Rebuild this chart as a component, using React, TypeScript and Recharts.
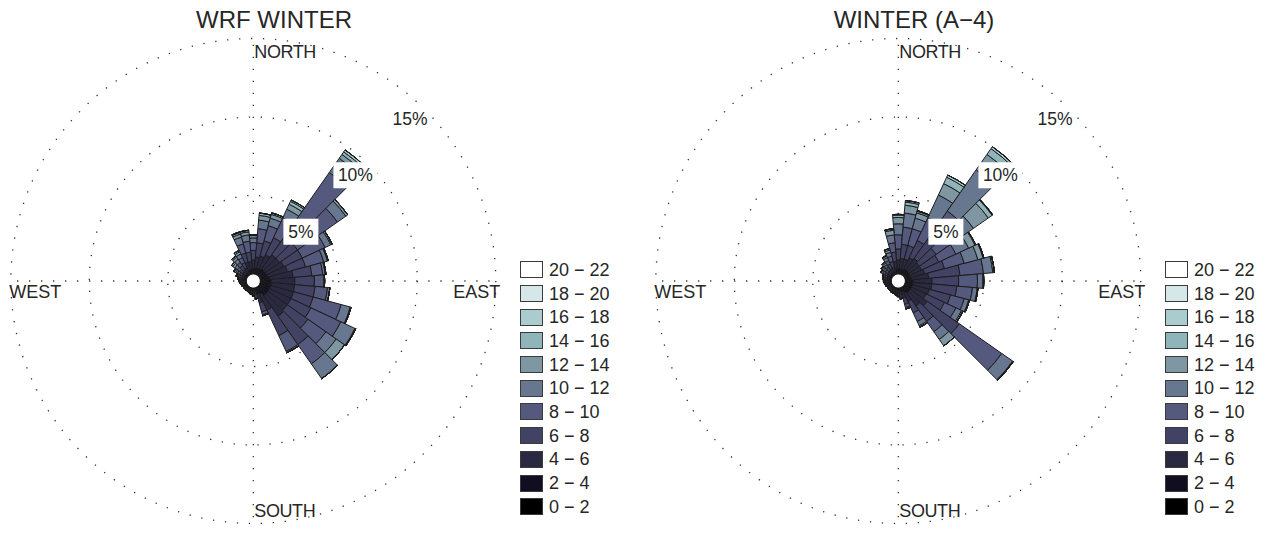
import React from 'react';
import {
  RadialBarChart,
  RadialBar,
  PolarGrid,
  PolarAngleAxis,
  PolarRadiusAxis,
  Legend,
} from 'recharts';

// ---- categories ----
const directions = [
  '0', '10', '20', '30', '40', '50', '60', '70', '80', '90', '100', '110',
  '120', '130', '140', '150', '160', '170', '180', '190', '200', '210', '220', '230',
  '240', '250', '260', '270', '280', '290', '300', '310', '320', '330', '340', '350',
];
const speedBins = ['0 − 2', '2 − 4', '4 − 6', '6 − 8', '8 − 10', '10 − 12', '12 − 14', '14 − 16', '16 − 18', '18 − 20', '20 − 22'];
const binColors = ['#000000', '#120e22', '#2a2942', '#424264', '#55597e', '#687790', '#7e97a3', '#8fb4b9', '#aaccce', '#d5e7e9', '#ffffff'];
const ringTicks = [5, 10, 15];

// ---- WRF WINTER: frequency (%) per direction, one array per speed bin ----
const wrf00_02 = [0.1, 0.1, 0.1, 0.1, 0.1, 0.1, 0.1, 0.1, 0.15, 0.15, 0.15, 0.15, 0.15, 0.15, 0.15, 0.1, 0.1, 0.05, 0.05, 0.05, 0.05, 0.05, 0.05, 0.05, 0.05, 0.05, 0.05, 0.05, 0.05, 0.05, 0.05, 0.05, 0.05, 0.05, 0.1, 0.1];
const wrf02_04 = [0.25, 0.3, 0.3, 0.35, 0.4, 0.4, 0.4, 0.4, 0.45, 0.55, 0.55, 0.55, 0.55, 0.55, 0.55, 0.4, 0.3, 0.15, 0.15, 0.1, 0.1, 0.1, 0.1, 0.1, 0.1, 0.1, 0.1, 0.1, 0.12, 0.12, 0.12, 0.15, 0.15, 0.15, 0.2, 0.2];
const wrf04_06 = [0.55, 0.7, 0.8, 0.95, 1.1, 1.1, 1.2, 1.3, 1.5, 1.5, 1.5, 1.5, 1.5, 1.5, 1.6, 1.1, 0.6, 0.25, 0.2, 0.15, 0.12, 0.1, 0.1, 0.1, 0.1, 0.1, 0.12, 0.12, 0.13, 0.15, 0.18, 0.2, 0.25, 0.3, 0.5, 0.5];
const wrf06_08 = [0.6, 0.9, 1.0, 1.2, 1.6, 1.4, 1.3, 1.2, 1.2, 1.25, 1.3, 1.3, 1.4, 1.6, 2.2, 1.8, 0.6, 0.2, 0.1, 0.1, 0.08, 0.05, 0.05, 0.05, 0.05, 0.07, 0.08, 0.1, 0.1, 0.13, 0.18, 0.2, 0.3, 0.35, 0.6, 0.6];
const wrf08_10 = [0.5, 0.9, 1.0, 1.4, 4.8, 3.1, 1.6, 1.2, 0.7, 0.6, 0.8, 1.85, 2.1, 1.4, 1.5, 1.1, 0.2, 0.05, 0, 0, 0, 0, 0, 0, 0, 0.03, 0.05, 0.05, 0.08, 0.1, 0.15, 0.2, 0.25, 0.35, 0.6, 0.7];
const wrf10_12 = [0.3, 0.55, 0.5, 0.6, 1.1, 0.65, 0.4, 0.25, 0.15, 0.05, 0.15, 0.6, 1.0, 0.8, 1.15, 0.1, 0.05, 0, 0, 0, 0, 0, 0, 0, 0, 0, 0, 0.03, 0.05, 0.08, 0.12, 0.2, 0.25, 0.25, 0.45, 0.4];
const wrf12_14 = [0.15, 0.3, 0.25, 0.35, 0.3, 0.15, 0.1, 0.05, 0.05, 0, 0, 0.05, 0.05, 0.65, 0, 0, 0, 0, 0, 0, 0, 0, 0, 0, 0, 0, 0, 0, 0.02, 0.05, 0.1, 0.15, 0.15, 0.15, 0.2, 0.2];
const wrf14_16 = [0.05, 0.15, 0.1, 0.2, 0.2, 0, 0, 0, 0, 0, 0, 0, 0, 0, 0, 0, 0, 0, 0, 0, 0, 0, 0, 0, 0, 0, 0, 0, 0, 0.02, 0.05, 0.1, 0.1, 0.1, 0.1, 0.1];
const wrf16_18 = [0, 0, 0, 0.1, 0.15, 0, 0, 0, 0, 0, 0, 0, 0, 0, 0, 0, 0, 0, 0, 0, 0, 0, 0, 0, 0, 0, 0, 0, 0, 0, 0, 0, 0, 0, 0.05, 0];
const wrf18_20 = [0, 0, 0, 0, 0, 0, 0, 0, 0, 0, 0, 0, 0, 0, 0, 0, 0, 0, 0, 0, 0, 0, 0, 0, 0, 0, 0, 0, 0, 0, 0, 0, 0, 0, 0, 0];
const wrf20_22 = [0, 0, 0, 0, 0, 0, 0, 0, 0, 0, 0, 0, 0, 0, 0, 0, 0, 0, 0, 0, 0, 0, 0, 0, 0, 0, 0, 0, 0, 0, 0, 0, 0, 0, 0, 0];

// ---- WINTER (A−4) ----
const a4_00_02 = [0.1, 0.1, 0.1, 0.1, 0.1, 0.1, 0.1, 0.1, 0.1, 0.15, 0.15, 0.15, 0.15, 0.15, 0.15, 0.1, 0.1, 0.05, 0.05, 0.05, 0.05, 0.05, 0.05, 0.05, 0.05, 0.05, 0.05, 0.05, 0.05, 0.05, 0.05, 0.05, 0.05, 0.05, 0.05, 0.1];
const a4_02_04 = [0.25, 0.25, 0.25, 0.3, 0.3, 0.3, 0.3, 0.3, 0.3, 0.35, 0.35, 0.35, 0.35, 0.35, 0.35, 0.3, 0.2, 0.15, 0.12, 0.1, 0.1, 0.1, 0.1, 0.1, 0.1, 0.1, 0.1, 0.1, 0.1, 0.1, 0.12, 0.12, 0.15, 0.15, 0.15, 0.2];
const a4_04_06 = [0.55, 0.65, 0.65, 0.8, 0.9, 0.8, 0.8, 0.9, 1.1, 1.2, 1.2, 1.1, 1.0, 1.3, 1.0, 0.6, 0.4, 0.25, 0.18, 0.15, 0.12, 0.12, 0.1, 0.1, 0.1, 0.12, 0.13, 0.15, 0.15, 0.15, 0.18, 0.2, 0.22, 0.25, 0.3, 0.5];
const a4_06_08 = [0.7, 0.9, 0.9, 1.2, 1.5, 1.3, 1.2, 1.3, 2.0, 1.7, 1.6, 1.4, 1.3, 2.5, 1.2, 0.8, 0.4, 0.15, 0.12, 0.1, 0.08, 0.08, 0.06, 0.06, 0.06, 0.08, 0.1, 0.1, 0.12, 0.13, 0.17, 0.2, 0.23, 0.3, 0.35, 0.6];
const a4_08_10 = [0.9, 1.1, 1.1, 1.6, 2.2, 1.5, 1.2, 1.3, 1.5, 1.2, 1.0, 0.9, 0.8, 3.3, 0.8, 0.6, 0.2, 0.07, 0.05, 0.05, 0.05, 0.05, 0.04, 0.04, 0.04, 0.05, 0.05, 0.06, 0.08, 0.1, 0.13, 0.15, 0.18, 0.25, 0.35, 0.6];
const a4_10_12 = [0.7, 0.9, 0.7, 1.6, 3.2, 1.4, 0.9, 0.9, 0.6, 0.35, 0.3, 0.3, 0.4, 0.85, 0.6, 0.3, 0.1, 0.03, 0.03, 0, 0, 0, 0, 0, 0, 0, 0.02, 0.04, 0.05, 0.07, 0.1, 0.1, 0.12, 0.2, 0.25, 0.5];
const a4_12_14 = [0.4, 0.5, 0.35, 0.8, 1.2, 1.15, 0.45, 0.35, 0.1, 0.05, 0.05, 0.05, 0.1, 0.05, 0.5, 0.1, 0, 0, 0, 0, 0, 0, 0, 0, 0, 0, 0, 0, 0, 0, 0.05, 0.08, 0.1, 0.1, 0.15, 0.3];
const a4_14_16 = [0.15, 0.2, 0.1, 0.45, 0.45, 0.3, 0.05, 0.05, 0, 0, 0, 0, 0, 0, 0, 0, 0, 0, 0, 0, 0, 0, 0, 0, 0, 0, 0, 0, 0, 0, 0, 0, 0, 0.05, 0.1, 0.1];
const a4_16_18 = [0.05, 0.1, 0.05, 0.15, 0.15, 0.05, 0, 0, 0, 0, 0, 0, 0, 0, 0, 0, 0, 0, 0, 0, 0, 0, 0, 0, 0, 0, 0, 0, 0, 0, 0, 0, 0, 0, 0, 0];
const a4_18_20 = [0, 0, 0, 0, 0, 0, 0, 0, 0, 0, 0, 0, 0, 0, 0, 0, 0, 0, 0, 0, 0, 0, 0, 0, 0, 0, 0, 0, 0, 0, 0, 0, 0, 0, 0, 0];
const a4_20_22 = [0, 0, 0, 0, 0, 0, 0, 0, 0, 0, 0, 0, 0, 0, 0, 0, 0, 0, 0, 0, 0, 0, 0, 0, 0, 0, 0, 0, 0, 0, 0, 0, 0, 0, 0, 0];

const wrfSeries = [wrf00_02, wrf02_04, wrf04_06, wrf06_08, wrf08_10, wrf10_12, wrf12_14, wrf14_16, wrf16_18, wrf18_20, wrf20_22];
const a4Series = [a4_00_02, a4_02_04, a4_04_06, a4_06_08, a4_08_10, a4_10_12, a4_12_14, a4_14_16, a4_16_18, a4_18_20, a4_20_22];

const buildData = (series: number[][]) =>
  directions.map((dir, i) => {
    const row: Record<string, any> = { dir };
    series.forEach((s, k) => {
      row[`b${k}`] = s[i];
    });
    return row;
  });

const wrfData = buildData(wrfSeries);
const a4Data = buildData(a4Series);

// ---- geometry ----
const FONT = "'Liberation Sans', Arial, Helvetica, sans-serif";
const TEXT = '#262626';
const CX = 253.3;
const CY = 281;
const R_IN = 7;
const R_MAX = 242.5;
const PCT_MAX = 15;
const AXIS_ANGLE = 46;
const ringRadii = ringTicks.map((t) => R_IN + ((R_MAX - R_IN) * t) / PCT_MAX);

const PctTick = (props: any) => {
  const { x, y, payload } = props;
  if (!payload || !payload.value) return null;
  const label = `${payload.value}%`;
  const a = (AXIS_ANGLE * Math.PI) / 180;
  const inward = 17;
  const tx = x - inward * Math.cos(a);
  const ty = y + inward * Math.sin(a);
  const w = label.length === 2 ? 35 : 44;
  return (
    <g>
      <rect x={tx - w / 2} y={ty - 13} width={w} height={26} fill="#ffffff" />
      <text x={tx} y={ty + 6} textAnchor="middle" fontSize={17.5} fill={TEXT} fontFamily={FONT}>
        {label}
      </text>
    </g>
  );
};

const SpeedLegend = () => {
  const items = speedBins.map((label, i) => ({ label, color: binColors[i] })).reverse();
  return (
    <div style={{ fontFamily: FONT, fontSize: 18, color: TEXT }}>
      {items.map((it) => (
        <div key={it.label} style={{ display: 'flex', alignItems: 'center', height: 23.7 }}>
          <span
            style={{
              display: 'inline-block',
              width: 21,
              height: 15,
              background: it.color,
              border: '1px solid #3a3a3a',
              marginRight: 6,
            }}
          />
          <span style={{ lineHeight: '18px', whiteSpace: 'nowrap' }}>{it.label}</span>
        </div>
      ))}
    </div>
  );
};

type RoseProps = { data: any[]; title: string; titleX: number; left: number };

const Rose = ({ data, title, titleX, left }: RoseProps) => (
  <div style={{ position: 'absolute', left, top: 0, width: 640, height: 533 }}>
    <RadialBarChart
      width={640}
      height={533}
      cx={CX}
      cy={CY}
      innerRadius={R_IN}
      outerRadius={R_MAX}
      startAngle={85}
      endAngle={-275}
      data={data}
      layout="centric"
      barCategoryGap={0}
      barGap={0}
      margin={{ top: 0, right: 0, bottom: 0, left: 0 }}
    >
      <PolarGrid
        gridType="circle"
        polarRadius={ringRadii}
        polarAngles={[0, 90, 180, 270]}
        stroke="#333333"
        strokeWidth={1.3}
        strokeDasharray="1.3 10.7"
      />
      <PolarAngleAxis type="category" dataKey="dir" tick={false} axisLine={false} tickLine={false} />
      {speedBins.map((b, k) => (
        <RadialBar
          key={b}
          dataKey={`b${k}`}
          name={b}
          stackId="rose"
          fill={binColors[k]}
          stroke="#1c1c1c"
          strokeWidth={1}
          isAnimationActive={false}
        />
      ))}
      <PolarRadiusAxis
        type="number"
        domain={[0, PCT_MAX]}
        ticks={ringTicks}
        angle={AXIS_ANGLE}
        axisLine={false}
        tickLine={false}
        tick={<PctTick />}
        allowDataOverflow
      />
      <Legend
        content={() => <SpeedLegend />}
        wrapperStyle={{ left: 520, top: 258, width: 120, height: 262 }}
      />
    </RadialBarChart>
    <svg
      width={640}
      height={533}
      style={{ position: 'absolute', left: 0, top: 0, pointerEvents: 'none' }}
    >
      <text x={titleX} y={28} textAnchor="middle" fontSize={24} fill={TEXT} fontFamily={FONT}>
        {title}
      </text>
      <text x={CX + 1} y={CY - 223} fontSize={18} fill={TEXT} fontFamily={FONT} letterSpacing={-0.4}>
        NORTH
      </text>
      <text x={CX + 1} y={CY + 236} fontSize={18} fill={TEXT} fontFamily={FONT} letterSpacing={-0.4}>
        SOUTH
      </text>
      <text x={CX - 244} y={CY + 17} fontSize={18} fill={TEXT} fontFamily={FONT}>
        WEST
      </text>
      <text x={CX + 247} y={CY + 17} textAnchor="end" fontSize={18} fill={TEXT} fontFamily={FONT}>
        EAST
      </text>
    </svg>
  </div>
);

export default function App() {
  return (
    <div style={{ position: 'absolute', left: 0, top: 0, width: 1273, height: 533, background: '#ffffff' }}>
      <Rose data={wrfData} title="WRF WINTER" titleX={274} left={0} />
      <Rose data={a4Data} title="WINTER (A−4)" titleX={269} left={645} />
    </div>
  );
}
